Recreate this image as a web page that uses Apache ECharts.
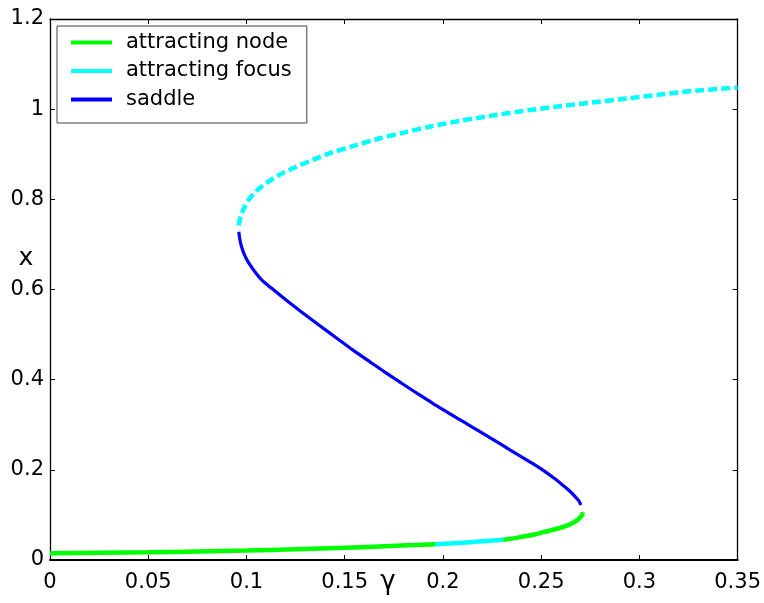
<!DOCTYPE html>
<html>
<head>
<meta charset="utf-8">
<title>Bifurcation diagram</title>
<script src="https://cdn.jsdelivr.net/npm/echarts@6/dist/echarts.min.js"></script>
<style>
  html, body { margin: 0; padding: 0; background: #fff; }
  #chart { width: 764px; height: 603px; }
</style>
</head>
<body>
<div id="chart"></div>
<script>
// Equilibrium branches x(γ), with stability type along each branch.

// lower branch, attracting node (left part)
const nodeLowGamma = [0, 0.025, 0.05, 0.075, 0.10, 0.125, 0.15, 0.1676, 0.185, 0.196];
const nodeLowX     = [0.015, 0.016, 0.017, 0.019, 0.021, 0.024, 0.027, 0.030, 0.033, 0.035];

// lower branch, short attracting focus stretch
const focusLowGamma = [0.196, 0.205, 0.215, 0.2307];
const focusLowX     = [0.035, 0.037, 0.040, 0.045];

// lower branch, attracting node up to the fold
const nodeHighGamma = [0.2307, 0.2360, 0.2410, 0.2460, 0.2515, 0.2560, 0.2600, 0.2635, 0.2660,
                       0.2682, 0.2698, 0.2708, 0.2712];
const nodeHighX     = [0.045, 0.048, 0.052, 0.056, 0.062, 0.067, 0.072, 0.077, 0.082,
                       0.088, 0.094, 0.100, 0.106];

// middle branch, saddle
const saddleGamma = [0.0961, 0.0966, 0.0975, 0.0990, 0.1010, 0.1040, 0.1080, 0.1130, 0.1200, 0.1280,
                     0.1372, 0.1460, 0.1541, 0.1630, 0.1710, 0.1790, 0.1871, 0.1950, 0.2030,
                     0.2110, 0.2184, 0.2260, 0.2330, 0.2400, 0.2460, 0.2520, 0.2570, 0.2610,
                     0.2645, 0.2672, 0.2692, 0.2702];
const saddleX     = [0.728, 0.712, 0.695, 0.677, 0.660, 0.641, 0.620, 0.602, 0.577, 0.550,
                     0.520, 0.492, 0.466, 0.439, 0.415, 0.392, 0.369, 0.347, 0.326,
                     0.305, 0.286, 0.266, 0.247, 0.229, 0.213, 0.196, 0.180, 0.166,
                     0.153, 0.141, 0.131, 0.122];

// upper branch, attracting focus
const focusUpGamma = [0.0961, 0.0966, 0.0975, 0.0990, 0.1016, 0.1060, 0.1100, 0.1180, 0.1253, 0.1340,
                      0.1422, 0.1550, 0.1676, 0.1800, 0.1930, 0.2100, 0.2269, 0.2440, 0.2607,
                      0.2780, 0.2946, 0.3115, 0.3285, 0.3500];
const focusUpX     = [0.742, 0.755, 0.768, 0.783, 0.802, 0.822, 0.836, 0.857, 0.872, 0.888,
                      0.902, 0.919, 0.935, 0.948, 0.961, 0.975, 0.987, 0.998, 1.007,
                      1.016, 1.024, 1.033, 1.041, 1.048];

// axes
const xTicks = [0, 0.05, 0.1, 0.15, 0.2, 0.25, 0.3, 0.35];
const yTicks = [0, 0.2, 0.4, 0.6, 0.8, 1, 1.2];

const legendNames = ['attracting node', 'attracting focus', 'saddle'];

const GREEN = '#00ff00', CYAN = '#00ffff', BLUE = '#0000ff';
const FONT = 'DejaVu Sans';

const zip = (a, b) => a.map((v, i) => [v, b[i]]);

function branch(name, gs, xs, color, width, dash) {
  return {
    name: name,
    type: 'line',
    data: zip(gs, xs),
    showSymbol: false,
    symbol: 'none',
    smooth: 0.3,
    clip: true,
    animation: false,
    lineStyle: { color: color, width: width, type: dash || 'solid', cap: 'butt' },
    itemStyle: { color: color },
    emphasis: { disabled: true }
  };
}

const thinLine = { color: '#000', width: 1.3 };
const tick = { show: true, inside: true, length: 5, lineStyle: { color: '#000', width: 1 } };

const chart = echarts.init(document.getElementById('chart'), null, { renderer: 'canvas' });
chart.setOption({
  backgroundColor: '#fff',
  animation: false,
  textStyle: { fontFamily: FONT },
  grid: { left: 50, right: 25, top: 19, bottom: 43, containLabel: false },
  xAxis: [
    {
      type: 'value', position: 'bottom',
      min: xTicks[0], max: xTicks[xTicks.length - 1], interval: 0.05,
      axisLine: { show: true, onZero: false, lineStyle: { color: '#000', width: 2 } },
      axisTick: tick,
      axisLabel: {
        show: true, margin: 12, color: '#000', fontSize: 21, fontFamily: FONT,
        formatter: v => String(+v.toFixed(2))
      },
      splitLine: { show: false }
    },
    {
      type: 'value', position: 'top',
      min: xTicks[0], max: xTicks[xTicks.length - 1], interval: 0.05,
      axisLine: { show: true, onZero: false, lineStyle: thinLine },
      axisTick: tick,
      axisLabel: { show: false },
      splitLine: { show: false }
    }
  ],
  yAxis: [
    {
      type: 'value', position: 'left',
      min: yTicks[0], max: yTicks[yTicks.length - 1], interval: 0.2,
      axisLine: { show: true, onZero: false, lineStyle: thinLine },
      axisTick: tick,
      axisLabel: {
        show: true, margin: 6, color: '#000', fontSize: 21, fontFamily: FONT,
        formatter: v => String(+v.toFixed(1))
      },
      splitLine: { show: false }
    },
    {
      type: 'value', position: 'right',
      min: yTicks[0], max: yTicks[yTicks.length - 1], interval: 0.2,
      axisLine: { show: true, onZero: false, lineStyle: thinLine },
      axisTick: tick,
      axisLabel: { show: false },
      splitLine: { show: false }
    }
  ],
  legend: {
    orient: 'vertical',
    left: 57, top: 26,
    data: legendNames.map(n => ({ name: n, icon: 'rect' })),
    itemWidth: 41, itemHeight: 4, itemGap: 7.5,
    padding: [6, 15, 13, 14],
    backgroundColor: '#fff',
    borderColor: '#444', borderWidth: 1,
    selectedMode: false,
    itemStyle: { borderWidth: 0 },
    textStyle: { fontFamily: FONT, fontSize: 21, color: '#000', padding: [0, 0, 0, 9] }
  },
  graphic: [
    {
      type: 'text', x: 26, y: 258, silent: true,
      style: { text: 'x', font: '25px "DejaVu Sans"', fill: '#000', textAlign: 'center', textVerticalAlign: 'middle' }
    },
    {
      type: 'text', x: 388, y: 582, silent: true,
      style: { text: 'γ', font: '26px "DejaVu Sans"', fill: '#000', textAlign: 'center', textVerticalAlign: 'middle' }
    }
  ],
  series: [
    branch('attracting node', nodeLowGamma, nodeLowX, GREEN, 4.5),
    branch('attracting focus', focusLowGamma, focusLowX, CYAN, 4.5),
    branch('attracting node', nodeHighGamma, nodeHighX, GREEN, 4.5),
    branch('saddle', saddleGamma, saddleX, BLUE, 3.2),
    branch('attracting focus, upper branch', focusUpGamma, focusUpX, CYAN, 4.5, [9, 4])
  ]
});
</script>
</body>
</html>
